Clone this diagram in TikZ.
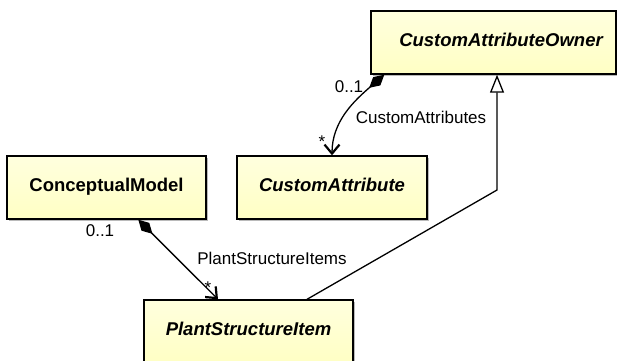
\documentclass[tikz,border=0pt]{standalone}
\usepackage{fontspec}
\setmainfont{Liberation Sans}
\usetikzlibrary{arrows.meta,shadows}
\definecolor{yellowtop}{RGB}{255,255,222}
\definecolor{yellowbot}{RGB}{255,255,196}
\begin{document}
\begin{tikzpicture}[x=1pt,y=-1pt,
  box/.style={draw=black, line width=1.4pt, top color=yellowtop, bottom color=yellowbot,
    drop shadow={shadow xshift=2pt, shadow yshift=-2pt, fill=black!45, opacity=0.6},
    inner sep=0pt, minimum height=63pt, text height=13pt, text depth=6pt,
    font=\fontsize{18.5}{21}\selectfont\bfseries},
  abstract/.style={font=\fontsize{18.5}{21}\selectfont\bfseries\itshape},
  conn/.style={line width=1.3pt, draw=black},
  comp/.style={conn, {Diamond[length=20pt,width=11pt,fill=black]}-{Straight Barb[length=9pt,width=15pt,line width=2.2pt]}},
  gen/.style={conn, -{Triangle[length=18pt,width=14pt,fill=white,line width=1.3pt]}},
  lbl/.style={font=\fontsize{17}{19}\selectfont, inner sep=0pt}]
\useasboundingbox (0,0) rectangle (617,360);
% classes
\node[box, minimum width=245pt, label={[abstract, xshift=7.5pt, text height=13pt, text depth=6pt, inner sep=0pt]center:CustomAttributeOwner}] (cao) at (493.5,42.5) {};
\node[box, abstract, minimum width=190pt] (ca) at (332,187.5) {CustomAttribute};
\node[box, minimum width=199pt] (cm) at (106.5,187.5) {ConceptualModel};
\node[box, abstract, minimum width=209pt] (psi) at (248.5,331.5) {PlantStructureItem};
% connectors
\draw[comp] ([xshift=14pt]cao.south west) .. controls +(-30,26) and +(0,-34) .. (ca.north);
\coordinate (bend) at (497,190);
\draw[gen] ([xshift=58.5pt]psi.north) -- (bend) -- (bend |- cao.south);
\draw[comp] ([xshift=132pt]cm.south west) -- ([xshift=-30.5pt]psi.north);
% labels
\node[lbl] (l1) at (349,87) {0..1};
\node[lbl] (l2) at (421,117) {CustomAttributes};
\node[lbl] (l3) at (322,142) {*};
\node[lbl] (l4) at (100,231) {0..1};
\node[lbl] (l5) at (272,258) {PlantStructureItems};
\node[lbl] (l6) at (208,288) {*};
\end{tikzpicture}
\end{document}
